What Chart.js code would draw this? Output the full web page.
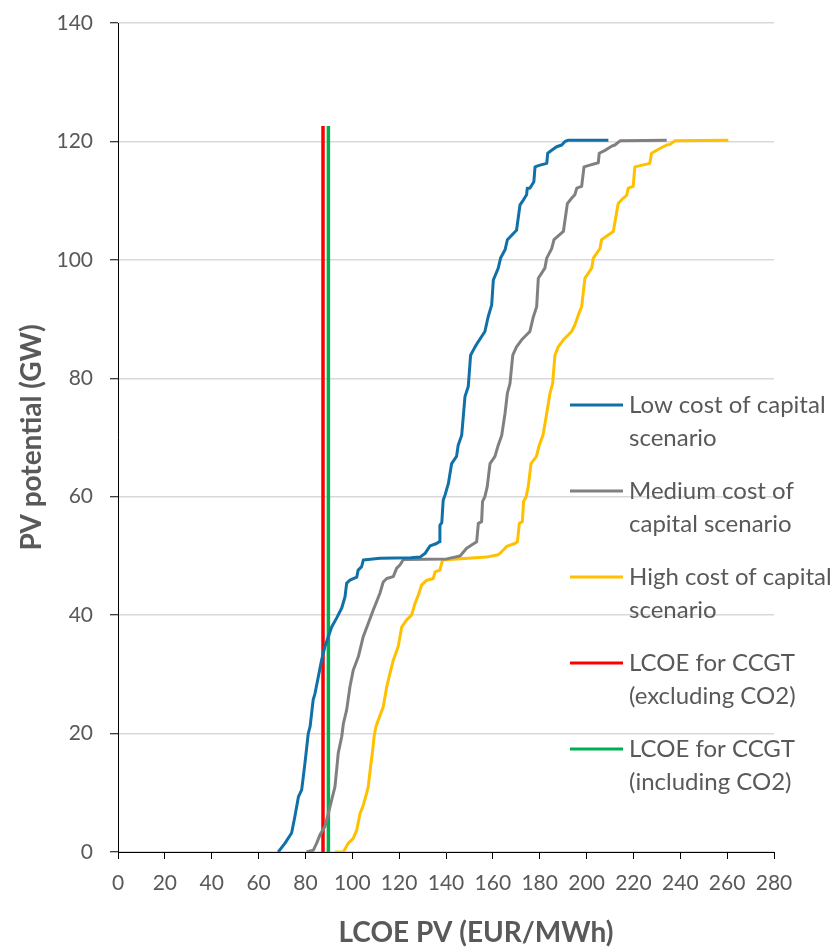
<!DOCTYPE html>
<html>
<head>
<meta charset="utf-8">
<title>PV potential vs LCOE</title>
<script src="https://cdn.jsdelivr.net/npm/chart.js@4.4.1/dist/chart.umd.min.js"></script>
<style>
  html, body { margin: 0; padding: 0; background: #ffffff; }
  canvas { display: block; }
</style>
</head>
<body>
<canvas id="chart" width="836" height="949"></canvas>
<script>
// LCOE of PV (EUR/MWh) against cumulative PV potential (GW), per cost-of-capital scenario
const lowLcoe = [68.4, 71.3, 74.1, 75.5, 77, 78.4, 79.8, 81.2, 82, 83.3, 84.1, 85.5, 86.9, 88.3, 89.8, 91.2, 93.3, 95.5, 96.9, 97.6, 99, 101.9, 102.5, 104, 104.7, 111.8, 125, 128.9, 131, 133.2, 136, 137.1, 137.4, 138.2, 138.8, 139.6, 141, 142.4, 144.5, 145.2, 146.7, 148.1, 149.5, 150.5, 152.4, 153.8, 156.6, 158, 159.5, 160.2, 162.3, 163.3, 165.2, 166.2, 170.1, 171.6, 173, 174.4, 174.7, 175.8, 177.5, 178, 180.1, 183, 183.4, 185.1, 187.2, 189.4, 190.8, 192.2, 209.3];
const lowGw   = [0, 1.5, 3.2, 6, 9.3, 10.5, 15, 20, 21.2, 25.7, 26.8, 29.6, 32.4, 34.7, 36.4, 38, 39.5, 41.2, 43.1, 45.4, 45.9, 46.4, 47.6, 48.2, 49.3, 49.6, 49.7, 49.8, 50.4, 51.7, 52.1, 52.4, 55.2, 55.6, 59.4, 60.3, 62.2, 65.6, 66.8, 68.7, 70.4, 76.9, 78.6, 83.9, 85.3, 86.2, 87.9, 90.4, 92.4, 96.6, 98.6, 100.3, 101.7, 103.4, 105, 109.3, 110.1, 111, 112.1, 112.1, 113.2, 115.7, 116, 116.3, 118, 118.5, 119.1, 119.4, 120, 120.2, 120.2];

const medLcoe = [80.5, 83.4, 84.8, 86.2, 88.3, 89.8, 91.2, 92.6, 93.3, 94, 95.5, 96.2, 97.6, 99, 100.4, 102.6, 104.7, 106.8, 109, 111.8, 113.2, 114.7, 117.5, 118.9, 120.4, 121.8, 140.3, 146, 148.8, 151.6, 153.1, 153.8, 155.2, 155.6, 156.6, 157.6, 158.3, 158.8, 160.9, 162.3, 163.8, 165.2, 166.2, 167.3, 168.5, 170.1, 172.3, 175.8, 177.3, 178.7, 179.4, 182.2, 183, 185.1, 186.1, 190.1, 191.8, 193.6, 195, 195.8, 197.9, 198.9, 201.4, 205, 205.4, 207.9, 210.7, 212.1, 214.3, 234.2];
const medGw   = [0, 0.3, 1.5, 2.9, 4.3, 6.5, 8.8, 11, 13.8, 16.7, 19.5, 21.7, 24, 27.9, 30.7, 33, 36.4, 38.6, 40.9, 43.7, 45.6, 46.2, 46.5, 47.9, 48.5, 49.4, 49.5, 50, 51.3, 52, 52.4, 55.5, 55.8, 59.2, 60, 61.7, 64, 65.6, 66.8, 68.7, 70.4, 74.1, 77.5, 79.1, 83.9, 85.3, 86.5, 87.9, 90.4, 92.1, 96.9, 98.6, 100.3, 101.9, 103.4, 104.8, 109.5, 110.4, 111, 112.1, 112.4, 115.7, 116, 116.4, 118, 118.5, 119.2, 119.4, 120.1, 120.2];

const highLcoe = [92.6, 96.2, 98.3, 100.4, 101.9, 103.3, 104.7, 106.1, 106.8, 107.8, 108.7, 109.3, 110.1, 111.1, 113.2, 114.7, 116.1, 117.5, 119.6, 121.1, 123.2, 125.3, 126.8, 128.2, 129.6, 131.8, 134.6, 135.3, 137.4, 138.5, 157.3, 162.3, 163.7, 165.9, 169.4, 170.5, 171.3, 172.6, 173.1, 174.2, 175.1, 176.3, 178.6, 179.8, 181.4, 183, 184.4, 185.5, 186.5, 187.9, 190.1, 193.6, 195, 196.5, 197.9, 199.3, 202.2, 202.9, 205.7, 206.4, 211.4, 213.5, 215.6, 217.1, 217.8, 219.9, 220.6, 227, 227.7, 231.3, 234.2, 235.6, 237.8, 260.5];
const highGw   = [0, 0, 1.5, 2.3, 3.7, 6.5, 7.9, 9.9, 11, 14.4, 17.2, 19.5, 21.2, 22.3, 24.5, 27.9, 30.2, 32.4, 34.7, 38, 39.2, 40, 42, 43.4, 45.1, 45.9, 46.2, 47.3, 47.6, 49.3, 49.8, 50.2, 50.7, 51.6, 52.1, 52.4, 55.5, 55.8, 59.2, 60, 61.7, 65.6, 66.8, 68.7, 70.4, 74.1, 77.5, 79.1, 83.9, 85.3, 86.5, 87.9, 89, 90.7, 92.1, 96.9, 98.6, 100.3, 101.9, 103.4, 104.8, 109.5, 110.4, 110.9, 112.1, 112.4, 115.7, 116.3, 118, 118.8, 119.4, 119.5, 120.1, 120.2];

// CCGT reference costs (EUR/MWh), drawn as vertical lines up to the top of the PV supply
const ccgtExclCo2 = 87.5;
const ccgtInclCo2 = 89.8;
const ccgtLineTop = 122.6;

// Axis ranges and tick spacing
const xTickValues = [0, 20, 40, 60, 80, 100, 120, 140, 160, 180, 200, 220, 240, 260, 280];
const yTickValues = [0, 20, 40, 60, 80, 100, 120, 140];

const xAxisTitle = 'LCOE PV (EUR/MWh)';
const yAxisTitle = 'PV potential (GW)';

const seriesNames = [
  ['Low cost of capital', 'scenario'],
  ['Medium cost of', 'capital scenario'],
  ['High cost of capital', 'scenario'],
  ['LCOE for CCGT', '(excluding CO2)'],
  ['LCOE for CCGT', '(including CO2)']
];
const seriesColors = ['#1070a8', '#808080', '#ffc000', '#ff0000', '#00b050'];

const toPoints = (xs, ys) => xs.map((x, i) => ({ x: x, y: ys[i] }));

const TEXT = '#595959';
const FONT = 'Lato';

// Two-line legend drawn inside the plot area, to the right of the curves
const sideLegend = {
  id: 'sideLegend',
  afterDatasetsDraw(chart) {
    const ctx = chart.ctx;
    ctx.save();
    ctx.font = '24px ' + FONT;
    ctx.fillStyle = TEXT;
    ctx.textBaseline = 'middle';
    ctx.textAlign = 'left';
    let y = 405;
    chart.data.datasets.forEach((ds, i) => {
      ctx.strokeStyle = ds.borderColor;
      ctx.lineWidth = 3;
      ctx.beginPath();
      ctx.moveTo(570, y);
      ctx.lineTo(623, y);
      ctx.stroke();
      seriesNames[i].forEach((t, k) => ctx.fillText(t, 629, y + k * 33));
      y += 86;
    });
    ctx.restore();
  }
};

// Horizontal axis title, set slightly right of the plot centre
const bottomTitle = {
  id: 'bottomTitle',
  afterDraw(chart) {
    const ctx = chart.ctx;
    ctx.save();
    ctx.font = 'bold 28px ' + FONT;
    ctx.fillStyle = TEXT;
    ctx.textAlign = 'center';
    ctx.textBaseline = 'middle';
    ctx.fillText(xAxisTitle, 476, 933);
    ctx.restore();
  }
};

function build() {
  const lineDs = (i, data, width) => ({
    label: seriesNames[i].join(' '),
    data: data,
    borderColor: seriesColors[i],
    backgroundColor: seriesColors[i],
    borderWidth: width,
    pointRadius: 0,
    tension: 0,
    fill: false,
    borderCapStyle: 'butt',
    borderJoinStyle: 'round'
  });

  new Chart(document.getElementById('chart'), {
    type: 'line',
    data: {
      datasets: [
        lineDs(0, toPoints(lowLcoe, lowGw), 3),
        lineDs(1, toPoints(medLcoe, medGw), 3),
        lineDs(2, toPoints(highLcoe, highGw), 3),
        lineDs(3, [{ x: ccgtExclCo2, y: 0 }, { x: ccgtExclCo2, y: ccgtLineTop }], 3.5),
        lineDs(4, [{ x: ccgtInclCo2, y: 0 }, { x: ccgtInclCo2, y: ccgtLineTop }], 3.5)
      ]
    },
    options: {
      responsive: false,
      devicePixelRatio: 1,
      animation: false,
      parsing: false,
      layout: { padding: { top: 23, right: 62, left: 0, bottom: 0 } },
      plugins: {
        legend: { display: false },
        tooltip: { enabled: false }
      },
      scales: {
        x: {
          type: 'linear',
          min: xTickValues[0],
          max: xTickValues[xTickValues.length - 1],
          afterBuildTicks: (s) => { s.ticks = xTickValues.map(v => ({ value: v })); },
          afterFit: (s) => { s.height = 97; s.paddingLeft = 0; s.paddingRight = 0; },
          ticks: { color: TEXT, font: { family: FONT, size: 21 }, padding: 12, maxRotation: 0, autoSkip: false },
          grid: { drawOnChartArea: false, drawTicks: true, tickLength: 7, tickColor: '#000000', tickWidth: 1 },
          border: { display: true, color: '#000000', width: 1 },
          title: { display: false }
        },
        y: {
          type: 'linear',
          min: yTickValues[0],
          max: yTickValues[yTickValues.length - 1],
          afterBuildTicks: (s) => { s.ticks = yTickValues.map(v => ({ value: v })); },
          afterFit: (s) => { s.width = 118; s.paddingTop = 0; s.paddingBottom = 0; },
          ticks: { color: TEXT, font: { family: FONT, size: 21 }, padding: 17 },
          grid: { color: '#d9d9d9', lineWidth: 1.5, drawTicks: true, tickLength: 8, tickColor: '#000000', tickWidth: 1 },
          border: { display: true, color: '#000000', width: 1 },
          title: {
            display: true,
            text: yAxisTitle,
            color: TEXT,
            font: { family: FONT, size: 28, weight: 'bold' },
            padding: { top: 15, bottom: 0 }
          }
        }
      }
    },
    plugins: [sideLegend, bottomTitle]
  });
}

Promise.all([
  document.fonts.load('24px Lato'),
  document.fonts.load('bold 28px Lato')
]).then(build, build);
</script>
</body>
</html>
